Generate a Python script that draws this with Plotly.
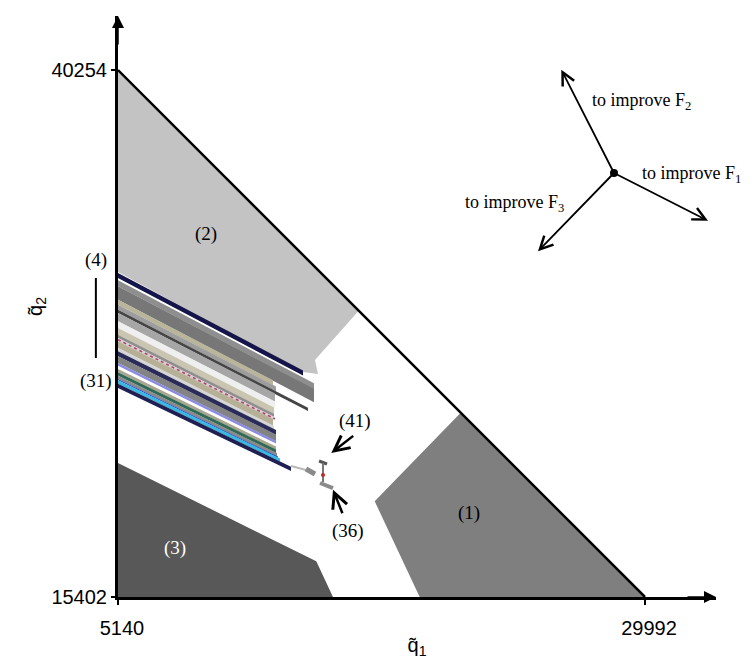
import plotly.graph_objects as go

# ---- axis extents / ticks (data units) ----
q1_ticks = [5140, 29992]
q1_ticktext = ["5140", "29992"]
q2_ticks = [15402, 40254]
q2_ticktext = ["15402", "40254"]
q1_range = [5140, 33340]
q2_range = [15402, 42801]

# ---- Pareto front boundary (hypotenuse) ----
front_q1 = [5140, 29992]
front_q2 = [40254, 15402]

# ---- regions ----
region1_q1 = [21301, 17245, 19368, 29992]
region1_q2 = [24093, 19915, 15402, 15402]
region2_q1 = [5140, 16491, 14430, 14572, 13864, 5140]
region2_q2 = [40254, 28903, 26578, 25918, 26012, 30728]
region3_q1 = [5140, 13944, 14491, 15279, 5140]
region3_q2 = [21721, 17321, 17085, 15402, 15402]

# ---- stripes (solutions 4..31) ----
stripe_q2_top = [30681, 30337, 30054, 29422, 29186, 28950, 28795, 28403, 28087, 27771, 27616,
                 27460, 27144, 26989, 26753, 26437, 26154, 25998, 25839, 25682, 25621, 25461]
stripe_q2_bot = [30445, 30054, 29422, 29186, 28950, 28795, 28403, 28087, 27771, 27616, 27460,
                 27144, 26989, 26753, 26437, 26310, 25998, 25839, 25682, 25621, 25461, 25258]
stripe_q1_end = [13864, 14383, 14383, 12449, 12591, 14100, 12544, 12544, 12497, 12497, 12544,
                 12449, 12497, 12591, 12591, 12591, 12591, 12591, 12638, 12685, 12780, 13298]
stripe_slope = [0.527, 0.525, 0.523, 0.520, 0.518, 0.516, 0.513, 0.511, 0.509, 0.507, 0.505,
                0.502, 0.500, 0.498, 0.495, 0.493, 0.491, 0.489, 0.487, 0.485, 0.482, 0.480]
stripe_colors = ["#15154a", "#8e8e8e", "#777777", "#b9b49a", "#9d9d9d", "#454545", "#a6a6a6",
                 "#efefef", "#c9c5b0", "#8f8f8f", "#dccdd2", "#b6b196", "#d5d5d5", "#2b2b5a",
                 "#838383", "#8b8be0", "#a9a790", "#2f6a57", "#8a8a8a", "#2a4fc8", "#3ab8e0",
                 "#1f1f52"]
dotted_stripe_index = 10

# ---- small cluster of solutions 36..41 ----
cluster_q1 = [[13298, 14006], [14006, 14430], [14619, 14996], [14807, 14807], [14666, 15279]]
cluster_q2 = [[21580, 21391], [21438, 21202], [21815, 21673], [21721, 20825], [20778, 20542]]
cluster_colors = ["#b8b8b8", "#8a8a8a", "#555555", "#777777", "#8a8a8a"]
cluster_widths = [2, 5, 3, 2, 4]
red_q1, red_q2 = [14807], [21155]

# ---- region labels (inside the axes) ----
label_text = ["(1)", "(2)", "(3)", "(41)", "(36)"]
label_q1 = [21678, 9290, 7814, 16302, 15986]
label_q2 = [19363, 32520, 17713, 23702, 18514]
label_colors = ["black", "black", "white", "black", "black"]

# range marker for solutions (4)..(31), left of the q2 axis
range_text = ["(4)", "(31)"]
range_q2 = [31294, 25588]
bar_q2 = [30445, 26673]

# pointer arrows (tail -> head)
ptr_tail_q1 = [16302, 15751]
ptr_tail_q2 = [23056, 19283]
ptr_head_q1 = [15199, 15279]
ptr_head_q2 = [22193, 20462]

# ---- improvement-direction compass ----
compass_center = (28530, 35397)
compass_tips_q1 = [26045, 32963, 24946]
compass_tips_q2 = [40268, 33147, 31704]
compass_text = ["to improve F<sub>2</sub>", "to improve F<sub>1</sub>", "to improve F<sub>3</sub>"]
compass_text_q1 = [27385, 29770, 26267]
compass_text_q2 = [38778, 35317, 33982]
compass_anchor = ["left", "left", "right"]

SERIF = "Liberation Serif, Times New Roman, serif"
SANS = "Liberation Sans, Arial, sans-serif"
LEFT_OF_AXIS = -0.037  # paper x of the (4)-(31) marker

fig = go.Figure()

def poly(xs, ys, color):
    fig.add_trace(go.Scatter(x=xs, y=ys, mode="lines", fill="toself", fillcolor=color,
                             line=dict(width=0, color=color), hoverinfo="skip",
                             showlegend=False))

poly(region2_q1, region2_q2, "#c3c3c3")
poly(region1_q1, region1_q2, "#7f7f7f")
poly(region3_q1, region3_q2, "#585858")

for i in range(len(stripe_q2_top)):
    x0, x1 = q1_ticks[0], stripe_q1_end[i]
    d = stripe_slope[i] * (x1 - x0)
    xs = [x0, x1, x1, x0, x0]
    ys = [stripe_q2_top[i], stripe_q2_top[i] - d, stripe_q2_bot[i] - d, stripe_q2_bot[i],
          stripe_q2_top[i]]
    poly(xs, ys, stripe_colors[i])

i = dotted_stripe_index
mid = (stripe_q2_top[i] + stripe_q2_bot[i]) / 2
x0, x1 = q1_ticks[0], stripe_q1_end[i]
fig.add_trace(go.Scatter(x=[x0, x1], y=[mid, mid - stripe_slope[i] * (x1 - x0)], mode="lines",
                         line=dict(color="#a8456a", width=1.5, dash="dot"),
                         hoverinfo="skip", showlegend=False))

for xs, ys, c, w in zip(cluster_q1, cluster_q2, cluster_colors, cluster_widths):
    fig.add_trace(go.Scatter(x=xs, y=ys, mode="lines", line=dict(color=c, width=w),
                             hoverinfo="skip", showlegend=False))
fig.add_trace(go.Scatter(x=red_q1, y=red_q2, mode="markers",
                         marker=dict(color="#c02828", size=4), hoverinfo="skip",
                         showlegend=False))

fig.add_trace(go.Scatter(x=front_q1, y=front_q2, mode="lines",
                         line=dict(color="black", width=2.5), hoverinfo="skip",
                         showlegend=False))

fig.add_trace(go.Scatter(x=[compass_center[0]], y=[compass_center[1]], mode="markers",
                         marker=dict(color="black", size=8), hoverinfo="skip",
                         showlegend=False))

ann = []
for t, x, y, c in zip(label_text, label_q1, label_q2, label_colors):
    ann.append(dict(x=x, y=y, text=t, showarrow=False, font=dict(family=SERIF, size=19, color=c)))

for t, y in zip(range_text, range_q2):
    ann.append(dict(x=LEFT_OF_AXIS, xref="paper", xanchor="center", y=y, yref="y", text=t,
                    showarrow=False, font=dict(family=SERIF, size=19, color="black")))

for tx, ty, hx, hy in zip(ptr_tail_q1, ptr_tail_q2, ptr_head_q1, ptr_head_q2):
    ann.append(dict(x=hx, y=hy, ax=tx, ay=ty, axref="x", ayref="y", text="", showarrow=True,
                    arrowhead=5, arrowsize=1.2, arrowwidth=2.5, arrowcolor="black", standoff=0))

for tx, ty in zip(compass_tips_q1, compass_tips_q2):
    ann.append(dict(x=tx, y=ty, ax=compass_center[0], ay=compass_center[1], axref="x", ayref="y",
                    text="", showarrow=True, arrowhead=5, arrowsize=1.4, arrowwidth=1.8,
                    arrowcolor="black", standoff=0, startstandoff=0))
for t, x, y, a in zip(compass_text, compass_text_q1, compass_text_q2, compass_anchor):
    ann.append(dict(x=x, y=y, text=t, xanchor=a, showarrow=False,
                    font=dict(family=SERIF, size=18, color="black")))

ann.append(dict(x=q1_range[0], y=q2_range[1], ax=0, ay=30, text="", showarrow=True,
                arrowhead=2, arrowsize=1.6, arrowwidth=1.5, arrowcolor="black"))
ann.append(dict(x=q1_range[1], y=q2_range[0], ax=-30, ay=0, text="", showarrow=True,
                arrowhead=2, arrowsize=1.6, arrowwidth=1.5, arrowcolor="black"))

shapes = [dict(type="line", xref="paper", yref="y", x0=LEFT_OF_AXIS, x1=LEFT_OF_AXIS,
               y0=bar_q2[0], y1=bar_q2[1], line=dict(color="black", width=2))]

fig.update_layout(
    width=754, height=661,
    margin=dict(l=110, r=46, t=8, b=72),
    plot_bgcolor="white", paper_bgcolor="white",
    annotations=ann, shapes=shapes,
    showlegend=False,
)
fig.update_xaxes(range=q1_range, tickvals=q1_ticks, ticktext=q1_ticktext,
                 showgrid=False, zeroline=False, showline=True, linecolor="black", linewidth=3,
                 ticks="outside", ticklen=5, tickwidth=2, tickcolor="black",
                 tickfont=dict(family=SANS, size=20, color="black"), ticklabelstandoff=6,
                 ticklabelshift=4,
                 title=dict(text="q\u0303<sub>1</sub>", font=dict(family=SANS, size=20, color="black"),
                            standoff=0))
fig.update_yaxes(range=q2_range, tickvals=q2_ticks, ticktext=q2_ticktext,
                 showgrid=False, zeroline=False, showline=True, linecolor="black", linewidth=3,
                 ticks="outside", ticklen=4, tickwidth=2, tickcolor="black",
                 tickfont=dict(family=SANS, size=20, color="black"),
                 title=dict(text="q\u0303<sub>2</sub>", font=dict(family=SANS, size=20, color="black"),
                            standoff=4))

fig.write_html("out.html")
